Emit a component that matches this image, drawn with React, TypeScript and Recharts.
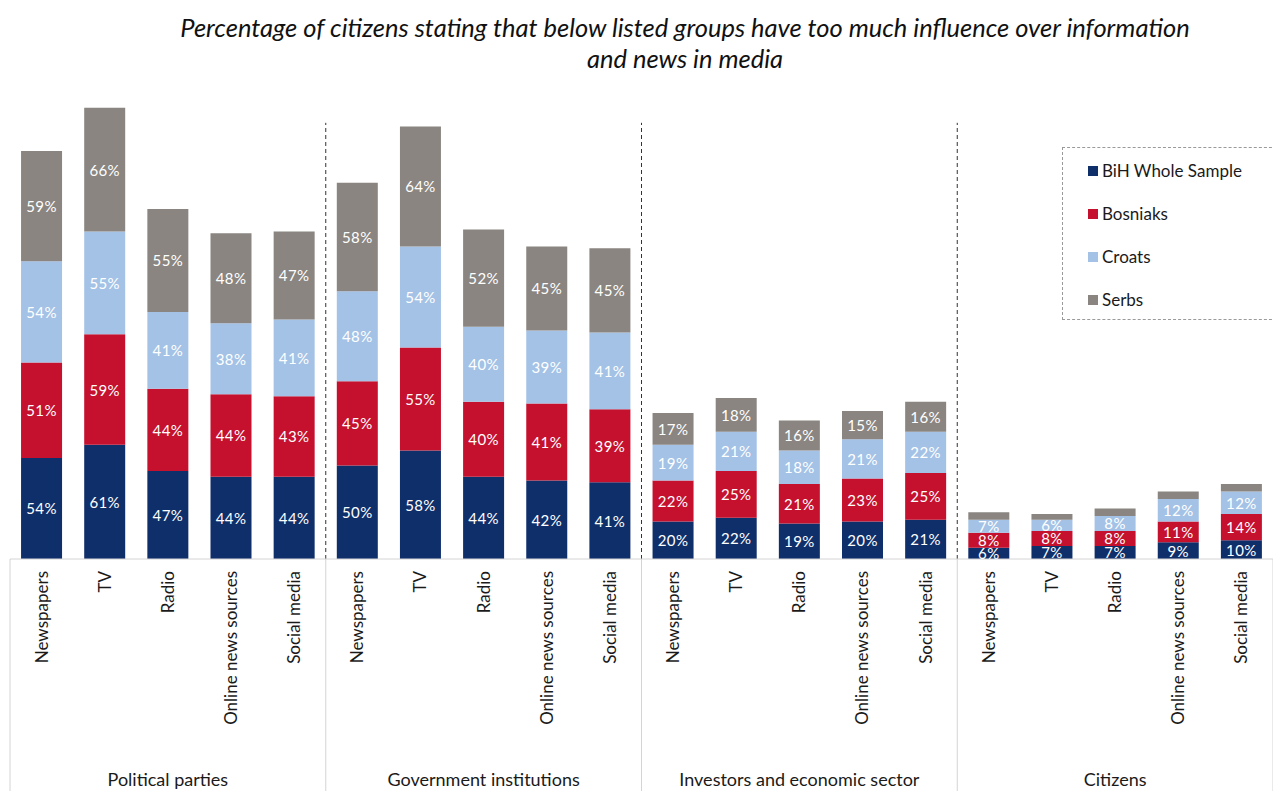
import React from "react"
import {
  BarChart,
  Bar,
  XAxis,
  YAxis,
  Legend,
  LabelList,
  ReferenceLine,
} from "recharts"

const groups = [
  "Political parties",
  "Government institutions",
  "Investors and economic sector",
  "Citizens",
]
const media = ["Newspapers", "TV", "Radio", "Online news sources", "Social media"]

const bih = [54, 61, 47, 44, 44, 50, 58, 44, 42, 41, 20, 22, 19, 20, 21, 6, 7, 7, 9, 10]
const bosniaks = [51, 59, 44, 44, 43, 45, 55, 40, 41, 39, 22, 25, 21, 23, 25, 8, 8, 8, 11, 14]
const croats = [54, 55, 41, 38, 41, 48, 54, 40, 39, 41, 19, 21, 18, 21, 22, 7, 6, 8, 12, 12]
const serbs = [59, 66, 55, 48, 47, 58, 64, 52, 45, 45, 17, 18, 16, 15, 16, 4, 3, 4, 4, 4]

const series = [
  { key: "bih", name: "BiH Whole Sample", color: "#0f2f6b" },
  { key: "bosniaks", name: "Bosniaks", color: "#c5102e" },
  { key: "croats", name: "Croats", color: "#a3c2e6" },
  { key: "serbs", name: "Serbs", color: "#8a8580" },
]

// one row per group × media
const rows = groups.flatMap((g, gi) =>
  media.map((m, mi) => {
    const i = gi * media.length + mi
    return {
      id: `${g}|${m}`,
      group: g,
      name: m,
      bih: bih[i],
      bosniaks: bosniaks[i],
      croats: croats[i],
      serbs: serbs[i],
    }
  })
)

// first category of each group after the first -> dashed separators
const groupStarts = groups.slice(1).map((_, gi) => rows[(gi + 1) * media.length].id)

function CategoryTick(props: any) {
  const { x, y, index } = props
  const row = rows[index]
  if (!row) return null
  const ty = y + 4
  return (
    <g>
      <text
        x={x}
        y={ty}
        transform={`rotate(-90, ${x}, ${ty})`}
        textAnchor="end"
        dy="0.35em"
        fontSize={17}
        fill="#1a1a1a"
      >
        {row.name}
      </text>
      {index % 5 === 2 && (
        <text x={x} y={786} textAnchor="middle" fontSize={18} fill="#1a1a1a">
          {row.group}
        </text>
      )}
    </g>
  )
}

function SegLabel(props: any) {
  const { x, y, width, height, value } = props
  if (Number(value) < 5) return null
  return (
    <text
      x={Number(x) + Number(width) / 2}
      y={Number(y) + Number(height) / 2}
      textAnchor="middle"
      dominantBaseline="central"
      fontSize={15}
      letterSpacing={0.4}
      fill="#fff"
    >
      {`${value}%`}
    </text>
  )
}

function LegendBox() {
  return (
    <div
      style={{
        border: "1px dashed #9a9a9a",
        background: "#fff",
        width: 215,
        height: 173,
        boxSizing: "border-box",
        paddingTop: 1,
        paddingLeft: 25,
      }}
    >
      {series.map((s) => (
        <div
          key={s.key}
          style={{ display: "flex", alignItems: "center", height: 43, fontSize: 17, color: "#1a1a1a" }}
        >
          <span
            style={{ display: "inline-block", width: 10, height: 10, background: s.color, marginRight: 4 }}
          />
          {s.name}
        </div>
      ))}
    </div>
  )
}

export default function App() {
  return (
    <div
      style={{
        position: "absolute",
        left: 0,
        top: 0,
        width: 1273,
        height: 791,
        overflow: "hidden",
        background: "#fff",
        fontFamily: "Lato, 'Open Sans', sans-serif",
      }}
    >
      <div
        style={{
          position: "absolute",
          left: 130,
          top: 12,
          width: 1110,
          textAlign: "center",
          fontStyle: "italic",
          fontSize: 25.5,
          lineHeight: "31px",
          color: "#111",
          zIndex: 2,
        }}
      >
        Percentage of citizens stating that below listed groups have too much influence over information
        <br />
        and news in media
      </div>
      <BarChart
        width={1273}
        height={791}
        data={rows}
        margin={{ top: 91, right: 0, left: 10, bottom: 0 }}
        barCategoryGap="17.5%"
      >
        <XAxis
          dataKey="id"
          height={232}
          interval={0}
          tickLine={false}
          axisLine={{ stroke: "#d4d4d4" }}
          tick={<CategoryTick />}
        />
        <YAxis hide domain={[0, 250]} allowDataOverflow />
        {groupStarts.map((id) => (
          <ReferenceLine
            key={`d${id}`}
            position="start"
            segment={[
              { x: id, y: 0 },
              { x: id, y: 233 },
            ]}
            stroke="#333"
            strokeDasharray="4 3"
            ifOverflow="visible"
          />
        ))}
        {[rows[0].id, ...groupStarts].map((id) => (
          <ReferenceLine
            key={`s${id}`}
            position="start"
            segment={[
              { x: id, y: 0 },
              { x: id, y: -124 },
            ]}
            stroke="#d4d4d4"
            ifOverflow="visible"
          />
        ))}
        <ReferenceLine
          position="end"
          segment={[
            { x: rows[rows.length - 1].id, y: 0 },
            { x: rows[rows.length - 1].id, y: -124 },
          ]}
          stroke="#d4d4d4"
          ifOverflow="visible"
        />
        <Legend
          layout="vertical"
          align="center"
          verticalAlign="middle"
          wrapperStyle={{ position: "absolute", left: 1062, top: 147, width: 215, height: 173 }}
          content={<LegendBox />}
        />
        {series.map((s) => (
          <Bar key={s.key} dataKey={s.key} name={s.name} stackId="a" fill={s.color} isAnimationActive={false}>
            <LabelList dataKey={s.key} content={<SegLabel />} />
          </Bar>
        ))}
      </BarChart>
    </div>
  )
}
